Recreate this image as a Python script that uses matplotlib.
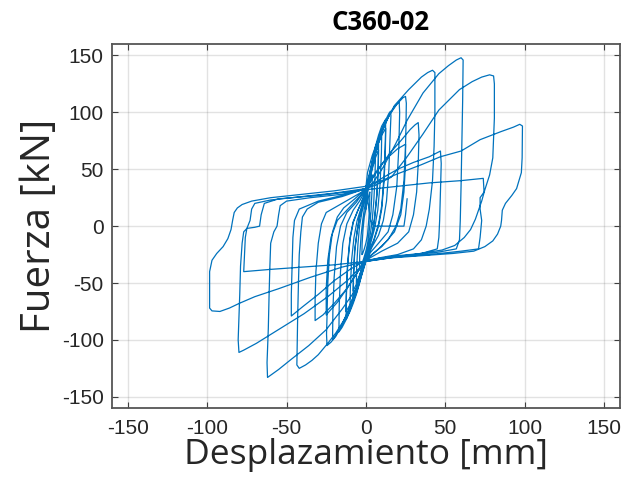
import matplotlib
matplotlib.use("Agg")
import matplotlib.pyplot as plt

plt.rcParams["axes.unicode_minus"] = False

# ---- data: hysteresis cycles (displacement mm, force kN) ----
cycle_2 = [(0,15),(1,22),(2,28),(2.5,30),(2.4,20),(1.8,5),(1,-8),(0,-15),(-1,-20),(-2,-24),(-2.5,-25),
           (-2.4,-16),(-1.8,-3),(-1,8),(0,15)]
cycle_4 = [(0,22),(1.5,32),(3,41),(4,45),(3.9,32),(3.2,12),(2,-6),(1,-16),(0,-22),(-1.5,-29),(-3,-35),
           (-4,-38),(-3.9,-26),(-3,-8),(-2,5),(-1,15),(0,22)]
cycle_6 = [(0,26),(2,38),(4,52),(6,60),(5.8,45),(5,22),(4,5),(2.5,-10),(1,-20),(0,-26),(-2,-34),(-4,-44),
           (-6,-50),(-5.8,-36),(-5,-16),(-4,0),(-2.5,12),(-1,21),(0,26)]
cycle_8 = [(0,28),(2,40),(4,53),(6,64),(8,72),(7.8,55),(7,30),(5.5,8),(4,-6),(2,-18),(0,-28),(-2,-36),
           (-4,-45),(-6,-55),(-8,-62),(-7.8,-45),(-7,-22),(-5.5,-5),(-4,8),(-2,18),(0,28)]
cycle_8b = [(0,27),(2,38),(4,50),(6,60),(8,67),(7.8,50),(7,27),(5.5,6),(4,-7),(2,-18),(0,-27),(-2,-35),
            (-4,-43),(-6,-51),(-8,-57),(-7.8,-42),(-7,-20),(-5.5,-4),(-4,8),(-2,18),(0,27)]
cycle_10 = [(0,30),(2,42),(4,56),(6,68),(8,77),(10,84),(9.8,65),(9,38),(7.5,14),(5.5,-2),(3,-15),(0,-29),
            (-2,-38),(-4,-48),(-6,-58),(-8,-66),(-10,-72),(-9.8,-55),(-9,-30),(-7.5,-10),(-5.5,5),(-3,16),(0,30)]
cycle_12 = [(0,31),(2,43),(4,57),(6,70),(8,80),(10,88),(12.5,94),(12.3,75),(11.5,45),(10,18),(8,2),(5,-12),
            (2,-22),(0,-30),(-2,-39),(-4,-50),(-6,-60),(-8,-68),(-10,-75),(-12.5,-82),(-12.3,-62),(-11.5,-35),
            (-10,-12),(-8,3),(-5,14),(-2,24),(0,31)]
cycle_12b = [(0,30),(2,41),(4,53),(6,64),(8,73),(10,80),(12.5,86),(12.3,68),(11.5,40),(10,15),(8,0),(5,-13),
             (2,-22),(0,-30),(-2,-38),(-4,-47),(-6,-56),(-8,-63),(-10,-69),(-12.5,-75),(-12.3,-57),(-11.5,-32),
             (-10,-10),(-8,4),(-5,14),(-2,23),(0,30)]
cycle_16 = [(0,32),(3,46),(6,65),(9,80),(12,92),(14.5,99),(15.5,101),(15.8,97),(15.3,80),(14.5,50),(13,22),
            (11,5),(8,-8),(4,-18),(0,-30),(-3,-42),(-6,-56),(-9,-70),(-12,-81),(-15,-89),(-17,-93),(-16.8,-70),
            (-16,-40),(-14.5,-15),(-12,2),(-8,14),(-4,22),(0,32)]
cycle_21 = [(0,33),(3,47),(6,64),(10,82),(14,96),(18,105),(20,108),(21,109),(21.3,100),(20.8,70),(19.5,35),
            (17,10),(14,-5),(8,-15),(3,-23),(0,-30),(-3,-42),(-7,-58),(-11,-74),(-15,-86),(-19,-96),(-21,-100),
            (-20.8,-75),(-20,-45),(-18.5,-18),(-16,0),(-12,12),(-6,21),(0,33)]
cycle_25 = [(0,33),(2,45),(5,62),(10,83),(15,98),(20,108),(23.5,113),(25,114),(25.5,108),(25.3,90),(25,70),
            (24,40),(22,15),(19,0),(14,-12),(8,-20),(0,-30),(-5,-53),(-11,-77),(-15,-87),(-19,-97),(-22,-102),
            (-24.5,-105),(-24.8,-95),(-24.5,-80),(-24,-50),(-23,-25),(-21,-5),(-18,8),(-14,16),(-7,24),(0,33)]
cycle_25b = [(0,32),(5,45),(12,58),(20,68),(25,72),(25,55),(24,30),(22,10),(18,-5),(10,-18),(0,-29),(-6,-42),
             (-12,-55),(-18,-67),(-25,-78),(-25,-55),(-24,-30),(-22,-10),(-18,5),(-10,17),(0,32)]
cycle_33 = [(0,33),(8,50),(15,64),(22,75),(28,85),(31,89),(33,91),(33.5,80),(33,55),(32,30),(30,10),(27,-5),
            (20,-15),(10,-22),(0,-30),(-5,-40),(-12,-55),(-20,-68),(-27,-78),(-32,-83),(-32,-65),(-31.5,-40),
            (-30,-15),(-28,2),(-25,12),(-15,20),(0,32)]
cycle_43 = [(0,34),(1,47),(4,62),(10,85),(18,106),(27,120),(35,131),(39,135),(42,137),(43.5,135),(43.5,100),
            (43,70),(42,40),(40,15),(38,0),(35,-12),(30,-20),(20,-25),(8,-28),(0,-31),(-3,-45),(-6,-59),
            (-10,-72),(-14,-83),(-19,-94),(-24,-103),(-30,-113),(-34,-118),(-38,-122),(-42,-125),(-43.5,-122),
            (-43,-80),(-42.5,-50),(-42,-25),(-41,-5),(-40,8),(-37,15),(-30,21),(-15,26),(0,33)]
cycle_47 = [(0,33),(10,42),(20,50),(30,56),(40,61),(47,66),(47.5,55),(47,30),(46.5,5),(46,-10),(45,-20),
            (35,-24),(20,-26),(0,-30),(-10,-38),(-20,-48),(-30,-60),(-40,-71),(-47,-79),(-47,-60),(-46.5,-35),
            (-46,-10),(-45,5),(-42,15),(-30,22),(-15,27),(0,33)]
cycle_60 = [(0,33),(4,37),(11,52),(19,73),(26,93),(36,117),(46,134),(52,141),(57,146),(60,148),(61.3,146),
            (61,110),(60.5,70),(60,35),(59.5,5),(59,-12),(57,-20),(45,-23),(25,-26),(10,-28),(0,-31),(-6,-55),
            (-15,-73),(-25,-91),(-36,-105),(-47,-117),(-55,-126),(-60,-131),(-62,-133),(-62.3,-120),(-61.5,-90),
            (-61,-60),(-60.5,-35),(-60,-15),(-58,-5),(-56,0),(-55,10),(-54,18),(-50,22),(-35,25),(-15,28),(0,33)]
cycle_80 = [(0,33),(6,36),(16,43),(26,61),(36,81),(46,102),(59,120),(67,127),(73,131),(78,133),(80.5,132),
            (81,125),(81,95),(80,60),(78,45),(75,32),(73,22),(71,14),(69,6),(66,-3),(62,-10),(56,-17),(48,-21),
            (30,-25),(10,-28),(0,-31),(-11,-47),(-24,-62),(-39,-77),(-54,-90),(-69,-103),(-77,-109),(-80,-111),
            (-80.5,-100),(-79.5,-60),(-79,-35),(-78,-15),(-77,-5),(-75,-2),(-73,5),(-72,15),(-70,20),(-60,23),
            (-40,26),(-20,29),(0,33)]
cycle_75 = [(0,32),(20,35),(40,38),(60,40),(74,42),(74.5,30),(72,25),(72,15),(73,5),(72,-10),(71,-20),
            (60,-22),(40,-25),(20,-27),(0,-31),(-20,-34),(-40,-36),(-60,-38),(-77,-40),(-76.5,-25),(-76,-10),
            (-75,-2),(-70,-1),(-67,0),(-66,10),(-64,20),(-55,24),(-30,27),(0,32)]
cycle_98 = [(0,35),(10,40),(20,46),(35,54),(47,61),(60,66),(72,76),(85,83),(93,87),(97,89.5),(98.7,88),
            (98.5,60),(98,47),(95,33),(92,27),(88,20),(86,14),(85.5,5),(85,0),(83,-7),(80,-13),(75,-18),
            (68,-22),(55,-24),(35,-26),(15,-28),(0,-31),(-15,-36),(-35,-45),(-55,-55),(-70,-62),(-80,-68),
            (-86,-72),(-92,-75),(-97,-74.5),(-98.5,-72),(-98.5,-40),(-97,-30),(-94,-24),(-90,-18),(-87,-11),
            (-85,-3),(-84,5),(-83,12),(-81,16),(-78,19),(-72,22),(-60,25),(-40,28),(-20,31),(0,35)]
end_path = [(0,35),(1.5,20),(3,5),(5,0),(15,0),(24,0),(25,10),(26,24)]

cycles = [cycle_2, cycle_4, cycle_6, cycle_8, cycle_8b, cycle_10, cycle_12, cycle_12b, cycle_16, cycle_21,
          cycle_25, cycle_25b, cycle_33, cycle_43, cycle_47, cycle_60, cycle_80, cycle_75, cycle_98, end_path]

ticks = [-150, -100, -50, 0, 50, 100, 150]
title = "C360-02"
xlabel = "Desplazamiento [mm]"
ylabel = "Fuerza [kN]"

# ---- figure ----
fig = plt.figure(figsize=(6.33, 4.90), dpi=100)
ax = fig.add_axes([0.177, 0.167, 0.802, 0.743])

disp = []
force = []
for c in cycles:
    disp.extend([p[0] for p in c])
    force.extend([p[1] for p in c])
ax.plot(disp, force, color="#0072BD", lw=0.9)

ax.set_xlim(-160, 160)
ax.set_ylim(-160, 160)
ax.set_xticks(ticks)
ax.set_yticks(ticks)
ax.grid(True, color="#262626", alpha=0.13, lw=1.0)
ax.set_axisbelow(True)
ax.tick_params(direction="in", length=4, width=0.8, top=True, right=True,
               colors="#404040", labelsize=15, labelcolor="#262626")
ax.tick_params(axis="x", pad=8)
ax.tick_params(axis="y", pad=6)
for lab in ax.get_xticklabels() + ax.get_yticklabels():
    lab.set_family("Liberation Sans")
for s in ax.spines.values():
    s.set_color("#555555")
    s.set_linewidth(1.3)

ax.set_xlabel(xlabel, fontsize=25.5, family="Open Sans", color="#262626", labelpad=0)
ax.set_ylabel(ylabel, fontsize=29, family="Open Sans", color="#262626", labelpad=1)
ax.set_title(title, fontsize=18.5, family="Open Sans", fontweight="bold", color="black",
             pad=10, x=0.528)

fig.savefig("out.png", dpi=100)
